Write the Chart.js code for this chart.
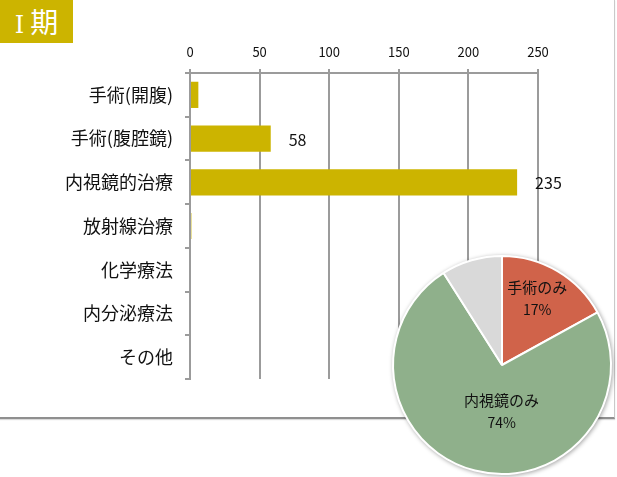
<!DOCTYPE html>
<html lang="ja">
<head>
<meta charset="utf-8">
<title>Ⅰ期 治療内容</title>
<script src="https://cdn.jsdelivr.net/npm/chart.js@4.4.1/dist/chart.umd.min.js"></script>
<style>
  html, body { margin: 0; padding: 0; background: #fff; }
  body {
    width: 617px; height: 477px; position: relative; overflow: hidden;
    font-family: "Noto Sans CJK JP", "Noto Sans", sans-serif;
  }
  /* panel outline: thin right edge, heavier bottom edge */
  #frame {
    position: absolute; left: 0; top: 0; width: 614px; height: 417px;
    border-right: 1px solid #c9c9c9; border-bottom: 2px solid #8f8f8f;
    box-shadow: 0 1px 1px rgba(0, 0, 0, 0.15);
  }
  #stage-title {
    position: absolute; left: 0; top: 0; width: 73px; height: 43px;
    background: #CCB400; color: #fff; font-size: 28px; line-height: 43px;
    text-align: center; white-space: nowrap;
  }
  #stage-title .num { font-family: "DejaVu Serif", serif; font-size: 24px; margin-right: 6px; }
  #bar-chart { position: absolute; left: 0; top: 0; }
  #pie-chart {
    position: absolute; left: 382px; top: 245px;
    filter: drop-shadow(1px 1px 2px rgba(0, 0, 0, 0.35));
  }
</style>
</head>
<body>
<div id="frame"></div>
<canvas id="bar-chart" width="617" height="477"></canvas>
<div id="stage-title"><span class="num">Ⅰ</span>期</div>
<canvas id="pie-chart" width="240" height="240"></canvas>

<script>
// 治療内容別の件数（横棒）
const categories = ['手術(開腹)', '手術(腹腔鏡)', '内視鏡的治療', '放射線治療', '化学療法', '内分泌療法', 'その他'];
const counts = [6, 58, 235, 1, 0, 0, 0];
// 件数を横に表示する項目
const showCount = [false, true, true, false, false, false, false];
const axisMin = 0;
const axisMax = 250;
const axisStep = 50;

// 治療の内訳（円）
const pieLabels = ['手術のみ', '内視鏡のみ', 'その他'];
const pieShares = [17, 74, 9];
const pieShowLabel = [true, true, false];

const FONT = '"Noto Sans CJK JP", "Noto Sans", sans-serif';
const TEXT = '#111111';
const GRID = '#9b9b9b';
const BAR_COLOR = '#CCB400';
const PIE_COLORS = ['#D0634A', '#8FB08B', '#D9D9D9'];

// 棒の右に件数を書く
const barValuePlugin = {
    id: 'barValues',
    afterDatasetsDraw(chart) {
        const ctx = chart.ctx;
        const meta = chart.getDatasetMeta(0);
        ctx.save();
        ctx.font = '16px ' + FONT;
        ctx.fillStyle = TEXT;
        ctx.textAlign = 'left';
        ctx.textBaseline = 'middle';
        meta.data.forEach((bar, i) => {
            if (!showCount[i]) return;
            ctx.fillText(String(counts[i]), bar.x + 18, bar.y + 1);
        });
        ctx.restore();
    }
};

// 円グラフの中に名前と割合を書く
const pieLabelPlugin = {
    id: 'pieLabels',
    afterDatasetsDraw(chart, args, opts) {
        const ctx = chart.ctx;
        const meta = chart.getDatasetMeta(0);
        const total = pieShares.reduce((a, b) => a + b, 0);
        ctx.save();
        ctx.fillStyle = TEXT;
        ctx.textAlign = 'center';
        ctx.textBaseline = 'middle';
        meta.data.forEach((arc, i) => {
            if (!pieShowLabel[i]) return;
            const mid = (arc.startAngle + arc.endAngle) / 2;
            const place = opts.place[i];
            const r = arc.outerRadius * place[0];
            const x = arc.x + Math.cos(mid) * r + place[1];
            const y = arc.y + Math.sin(mid) * r + place[2];
            ctx.font = '15px ' + FONT;
            ctx.fillText(pieLabels[i], x, y - 11);
            ctx.font = '14px ' + FONT;
            ctx.fillText(Math.round(pieShares[i] / total * 100) + '%', x, y + 11);
        });
        ctx.restore();
    }
};

new Chart(document.getElementById('bar-chart'), {
    type: 'bar',
    data: {
        labels: categories,
        datasets: [{
            data: counts,
            backgroundColor: BAR_COLOR,
            categoryPercentage: 1,
            barPercentage: 0.6
        }]
    },
    options: {
        indexAxis: 'y',
        responsive: false,
        animation: false,
        layout: { padding: { left: 0, top: 0, right: 79, bottom: 98 } },
        plugins: {
            legend: { display: false },
            tooltip: { enabled: false }
        },
        scales: {
            x: {
                position: 'top',
                min: axisMin,
                max: axisMax,
                ticks: { stepSize: axisStep, color: TEXT, font: { size: 13, family: FONT }, padding: 9 },
                grid: { color: GRID, lineWidth: 2, tickLength: 4 },
                border: { color: GRID, width: 2 },
                afterFit(scale) { scale.height = 73; }
            },
            y: {
                ticks: { color: TEXT, font: { size: 18, family: FONT }, padding: 12 },
                grid: { drawOnChartArea: false, color: GRID, lineWidth: 2, tickLength: 5 },
                border: { color: GRID, width: 2 },
                afterFit(scale) { scale.width = 190; }
            }
        }
    },
    plugins: [barValuePlugin]
});

new Chart(document.getElementById('pie-chart'), {
    type: 'pie',
    data: {
        labels: pieLabels,
        datasets: [{
            data: pieShares,
            backgroundColor: PIE_COLORS,
            borderColor: '#ffffff',
            borderWidth: 2
        }]
    },
    options: {
        responsive: false,
        animation: false,
        radius: 109,
        layout: { padding: 0 },
        plugins: {
            legend: { display: false },
            tooltip: { enabled: false },
            pieLabels: { place: [[0.69, -3, -2], [0.42, 11, 2], [0.5, 0, 0]] }
        }
    },
    plugins: [pieLabelPlugin]
});
</script>
</body>
</html>
